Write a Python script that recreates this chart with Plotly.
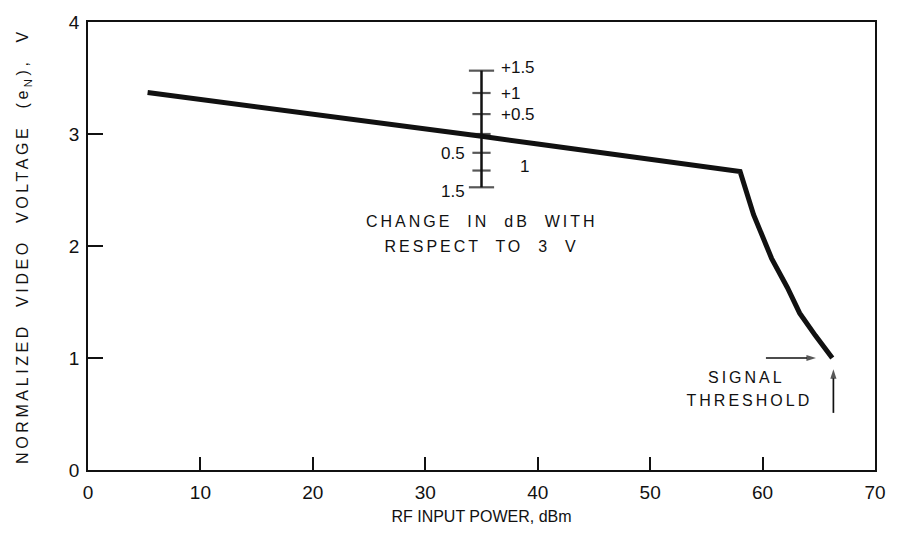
import plotly.graph_objects as go

# RF input power (dBm) against normalized video voltage e_N (V)
rf_power = [5.3, 10, 15, 20, 25, 30, 35, 40, 45, 50, 55, 58.0, 59.2, 60.8, 62.2, 63.3, 64.7, 66.2]
video_v = [3.37, 3.31, 3.245, 3.18, 3.115, 3.05, 2.98, 2.91, 2.845, 2.78, 2.71, 2.665, 2.28, 1.89, 1.63, 1.40, 1.20, 1.00]

x_ticks = [0, 10, 20, 30, 40, 50, 60, 70]
y_ticks = [0, 1, 2, 3, 4]

# inset dB scale, referenced to 3 V, placed at 35 dBm
scale_ref_v = 3.0
scale_x = 35
scale_db = [-1.5, -1.0, -0.5, 0.0, 0.5, 1.0, 1.5]
scale_text = ["1.5", "1", "0.5", "", "+0.5", "+1", "+1.5"]
scale_side = ["left", "right", "left", "", "right", "right", "right"]

scale_v = [scale_ref_v * 10 ** (d / 20) for d in scale_db]

FONT = "Liberation Sans, Arial, sans-serif"
INK = "#111111"

fig = go.Figure()

fig.add_trace(go.Scatter(
    x=rf_power, y=video_v, mode="lines",
    line=dict(color=INK, width=5),
    hoverinfo="skip", showlegend=False,
))

# dB scale: vertical bar with tick marks
fig.add_trace(go.Scatter(
    x=[scale_x] * len(scale_v), y=scale_v, mode="lines+markers",
    line=dict(color=INK, width=2.5),
    marker=dict(symbol="line-ew", size=[18, 13, 13, 13, 13, 13, 18],
                line=dict(color=INK, width=2.2)),
    hoverinfo="skip", showlegend=False,
))

# signal threshold at the end of the curve, pointed at from the left and from below
thr_x, thr_y = rf_power[-1], video_v[-1]
fig.add_trace(go.Scatter(
    x=[thr_x - 5.9, thr_x - 1.45], y=[thr_y, thr_y], mode="lines+markers",
    line=dict(color=INK, width=1.7),
    marker=dict(symbol=["circle", "arrow"], size=[0, 10], angleref="previous",
                color=INK, line=dict(width=0)),
    hoverinfo="skip", showlegend=False,
))
fig.add_trace(go.Scatter(
    x=[thr_x + 0.1, thr_x + 0.1], y=[thr_y - 0.49, thr_y - 0.1], mode="lines+markers",
    line=dict(color=INK, width=1.7),
    marker=dict(symbol=["circle", "arrow"], size=[0, 10], angleref="previous",
                color=INK, line=dict(width=0)),
    hoverinfo="skip", showlegend=False,
))

annotations = []
for v, txt, side, d in zip(scale_v, scale_text, scale_side, scale_db):
    if not txt:
        continue
    if side == "right":
        shift = 36 if d == -1.0 else 17
        annotations.append(dict(x=scale_x, y=v, xref="x", yref="y", text=txt,
                                showarrow=False, xanchor="left", xshift=shift,
                                yshift={1.5: 3, -1.0: 4}.get(d, 0),
                                font=dict(family=FONT, size=17, color=INK)))
    else:
        annotations.append(dict(x=scale_x, y=v, xref="x", yref="y", text=txt,
                                showarrow=False, xanchor="right", xshift=-15,
                                yshift=-4 if d == -1.5 else -1,
                                font=dict(family=FONT, size=17, color=INK)))

annotations += [
    dict(x=scale_x, y=2.22, xref="x", yref="y", text="CHANGE  IN  dB  WITH",
         showarrow=False, font=dict(family=FONT, size=16, color=INK)),
    dict(x=scale_x, y=2.0, xref="x", yref="y", text="RESPECT  TO  3  V",
         showarrow=False, font=dict(family=FONT, size=16, color=INK)),
    dict(x=58.6, y=0.83, xref="x", yref="y", text="SIGNAL", showarrow=False,
         font=dict(family=FONT, size=16, color=INK)),
    dict(x=58.8, y=0.62, xref="x", yref="y", text="THRESHOLD", showarrow=False,
         font=dict(family=FONT, size=16, color=INK)),
]

axis_common = dict(
    showline=True, mirror=True, linecolor=INK, linewidth=1.6,
    showgrid=False, zeroline=False, ticks="inside", tickcolor=INK,
    tickwidth=1.6, tickfont=dict(family=FONT, size=19, color=INK),
)

fig.update_layout(
    width=904, height=535,
    margin=dict(l=88, r=29, t=18, b=63),
    paper_bgcolor="white", plot_bgcolor="white",
    xaxis=dict(range=[0, 70], tickvals=x_ticks, ticklen=13, ticklabelstandoff=4,
               title=dict(text="RF INPUT POWER, dBm", standoff=9,
                          font=dict(family=FONT, size=16, color=INK)),
               **axis_common),
    yaxis=dict(range=[0, 4], tickvals=y_ticks, ticklen=15, ticklabelstandoff=3,
               title=dict(text="NORMALIZED  VIDEO  VOLTAGE  (e<sub>N</sub>),  V",
                          standoff=36, font=dict(family=FONT, size=16, color=INK)),
               **axis_common),
    annotations=annotations,
)

spacing_js = """
var gd = document.getElementById('{plot_id}');
function spread(){
  gd.querySelectorAll('.annotation-text').forEach(function(t){
    if (t.textContent.length > 4) { t.style.letterSpacing = '3px'; }
  });
  gd.querySelectorAll('.ytitle').forEach(function(t){ t.style.letterSpacing = '3.6px'; });
}
spread();
gd.on('plotly_afterplot', spread);
"""

fig.write_html("out.html", post_script=spacing_js)
